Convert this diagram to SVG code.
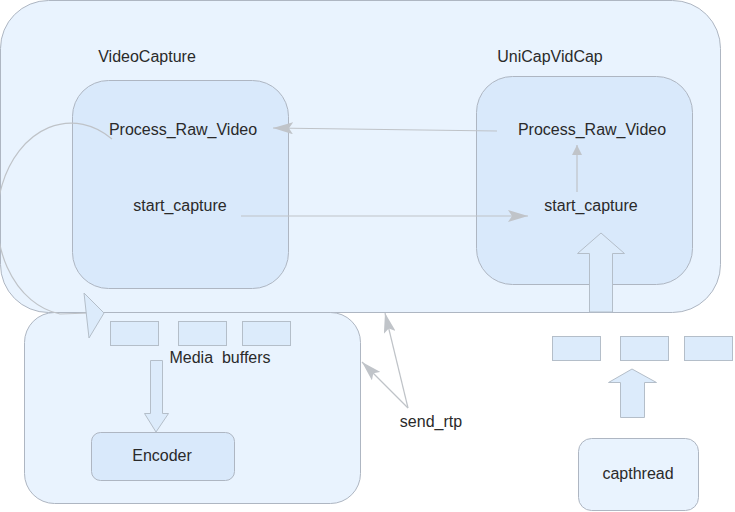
<svg xmlns="http://www.w3.org/2000/svg" width="735" height="512" viewBox="0 0 735 512">
<defs>
<style>
.t{font-family:"Liberation Sans",Arial,sans-serif;font-size:16px;fill:#2a2a2a;text-anchor:middle}
.cont{fill:#e9f3fe;stroke:#aeb6c2;stroke-width:1}
.node{fill:#d9e9fb;stroke:#aeb6c2;stroke-width:1}
.buf{fill:#dcebfb;stroke:#b4bec9;stroke-width:1}
.ln{fill:none;stroke:#bfc3c8;stroke-width:1.2}
.blk{fill:#dcebfb;stroke:#b4bec9;stroke-width:1}
</style>
<marker id="ah" viewBox="0 0 10 10" refX="10" refY="5" markerWidth="10" markerHeight="10" markerUnits="userSpaceOnUse" orient="auto">
<path d="M0,0 L10,5 L0,10 Z" fill="#c0c4c9"/>
</marker>
<marker id="ahl" viewBox="0 0 20 12" refX="20" refY="6" markerWidth="20" markerHeight="12" markerUnits="userSpaceOnUse" orient="auto">
<path d="M0,0 L20,6 L0,12 L4,6 Z" fill="#c0c4c9"/>
</marker>
</defs>
<g id="VideoCaptureContainer">
<rect class="cont" x="0.5" y="0.5" width="720" height="312" rx="48"/>
<text class="t" x="147" y="62">VideoCapture</text>
<text class="t" x="550" y="62">UniCapVidCap</text>
</g>
<g id="EncoderContainer">
<rect class="cont" x="24.5" y="312.5" width="336" height="191" rx="30"/>
</g>
<g id="VideoCaptureNode">
<rect class="node" x="72.5" y="80.5" width="216" height="208" rx="36"/>
<text class="t" x="183" y="135">Process_Raw_Video</text>
<text class="t" x="180" y="211">start_capture</text>
</g>
<g id="UniCapNode">
<rect class="node" x="476.5" y="76.5" width="216" height="208" rx="36"/>
<text class="t" x="592" y="135">Process_Raw_Video</text>
<text class="t" x="591" y="211">start_capture</text>
</g>
<g id="MediaBuffersLeft">
<rect class="buf" x="110.5" y="321.5" width="48" height="24"/>
<rect class="buf" x="178.5" y="321.5" width="48" height="24"/>
<rect class="buf" x="242.5" y="321.5" width="48" height="24"/>
<text class="t" x="220" y="363" xml:space="preserve">Media  buffers</text>
</g>
<g id="Encoder">
<rect class="node" x="91.5" y="432.5" width="143" height="48" rx="9"/>
<text class="t" x="162" y="461">Encoder</text>
</g>
<g id="BuffersRight">
<rect class="buf" x="552.5" y="336.5" width="48" height="24"/>
<rect class="buf" x="620.5" y="336.5" width="48" height="24"/>
<rect class="buf" x="684.5" y="336.5" width="48" height="24"/>
</g>
<g id="capthread">
<rect class="cont" x="578.5" y="438.5" width="120" height="72" rx="13"/>
<text class="t" x="638" y="479">capthread</text>
</g>
<g id="send_rtp">
<text class="t" x="431" y="427">send_rtp</text>
</g>
<g id="connectors">
<path class="ln" d="M497,131 L273,128" marker-end="url(#ahl)"/>
<path class="ln" d="M241,216 L528,216" marker-end="url(#ahl)"/>
<path class="ln" d="M577,192 L577,145" marker-end="url(#ah)"/>
<path class="ln" d="M408,408 L385,313" marker-end="url(#ahl)"/>
<path class="ln" d="M408,408 L362,362" marker-end="url(#ahl)"/>
<path class="ln" d="M112,139 A74,96 0 1 0 60,314 L90,313"/>
<polygon class="blk" points="84,293 104,313 89,338"/>
<polygon class="blk" points="589.5,312 589.5,253.5 577.5,253.5 601,233 624.5,253.5 612.5,253.5 612.5,312"/>
<polygon class="blk" points="620.5,417.5 620.5,382.5 608.5,382.5 632,369 656.5,382.5 644.5,382.5 644.5,417.5"/>
<polygon class="blk" points="150.5,360.5 162.5,360.5 162.5,413.5 168.5,413.5 156,432 144.5,413.5 150.5,413.5"/>
</g>
</svg>
